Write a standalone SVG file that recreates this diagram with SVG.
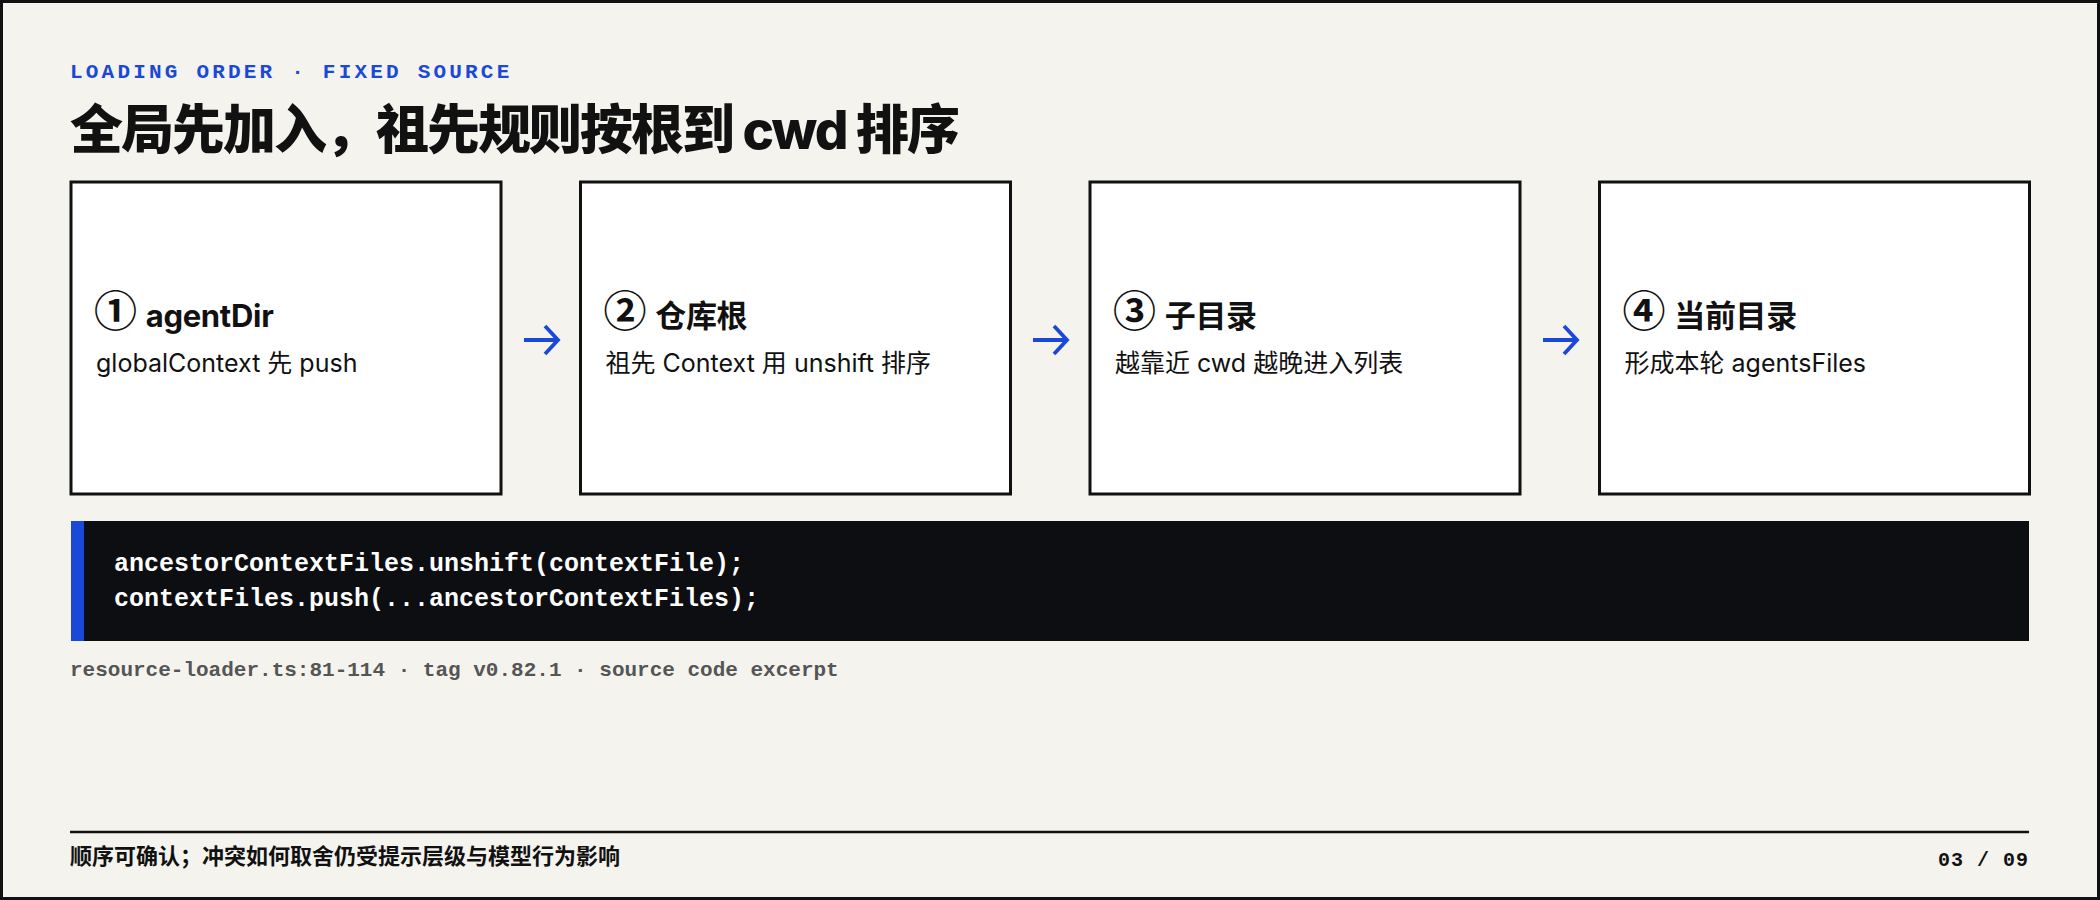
<svg xmlns="http://www.w3.org/2000/svg" width="2100" height="900" viewBox="0 0 2100 900">
  <style>
    .bg { fill: #f4f3ee; stroke: #111111; stroke-width: 3; }
    .eyebrow { font-family: "Liberation Mono", "DejaVu Sans Mono", monospace; font-weight: bold; font-size: 21px; letter-spacing: 3.2px; fill: #1a48d8; }
    .title { font-family: Inter, "Noto Sans CJK SC", sans-serif; font-weight: 800; font-size: 53px; letter-spacing: -2px; fill: #111111; }
    .box { fill: #ffffff; stroke: #111111; stroke-width: 3; }
    .head { font-family: Inter, "Noto Sans CJK SC", sans-serif; font-weight: bold; font-size: 31px; letter-spacing: -0.3px; fill: #111111; }
    .num { font-family: "Noto Sans CJK SC", sans-serif; font-weight: bold; font-size: 43px; }
    .sub { font-family: Inter, "Noto Sans CJK SC", sans-serif; font-size: 25px; fill: #111111; }
    .arrow { fill: none; stroke: #1a48d8; stroke-width: 3.8; stroke-linecap: butt; }
    .code { font-family: "Liberation Mono", "DejaVu Sans Mono", monospace; font-weight: bold; font-size: 25px; fill: #ffffff; }
    .caption { font-family: "Liberation Mono", "DejaVu Sans Mono", monospace; font-weight: bold; font-size: 21px; fill: #555555; }
    .foot { font-family: Inter, "Noto Sans CJK SC", sans-serif; font-weight: bold; font-size: 22px; fill: #111111; }
    .page { font-family: "Liberation Mono", "DejaVu Sans Mono", monospace; font-weight: bold; font-size: 20px; letter-spacing: 1px; fill: #111111; }
  </style>

  <rect class="bg" x="1.5" y="1.5" width="2097" height="897"/>

  <text class="eyebrow" x="70" y="78">LOADING ORDER · FIXED SOURCE</text>
  <text class="title" x="70" y="149">全局先加入，祖先规则按根到 cwd 排序</text>

  <g id="node1">
    <rect class="box" x="71" y="182" width="430" height="312"/>
    <text class="head" x="94" y="327"><tspan class="num">①</tspan><tspan dx="9">agentDir</tspan></text>
    <text class="sub" x="96" y="372">globalContext 先 push</text>
  </g>
  <g id="node2">
    <rect class="box" x="580.5" y="182" width="430" height="312"/>
    <text class="head" x="603.5" y="327"><tspan class="num">②</tspan><tspan dx="9">仓库根</tspan></text>
    <text class="sub" x="605.5" y="372">祖先 Context 用 unshift 排序</text>
  </g>
  <g id="node3">
    <rect class="box" x="1090" y="182" width="430" height="312"/>
    <text class="head" x="1113" y="327"><tspan class="num">③</tspan><tspan dx="9">子目录</tspan></text>
    <text class="sub" x="1115" y="372">越靠近 cwd 越晚进入列表</text>
  </g>
  <g id="node4">
    <rect class="box" x="1599.5" y="182" width="430" height="312"/>
    <text class="head" x="1622.5" y="327"><tspan class="num">④</tspan><tspan dx="9">当前目录</tspan></text>
    <text class="sub" x="1624.5" y="372">形成本轮 agentsFiles</text>
  </g>

  <g id="connectors">
    <path class="arrow" d="M524 340 H557 M545 326 L558 340 L545 354"/>
    <path class="arrow" d="M1033 340 H1066 M1054 326 L1067 340 L1054 354"/>
    <path class="arrow" d="M1543 340 H1576 M1564 326 L1577 340 L1564 354"/>
  </g>

  <g id="code">
    <rect x="71" y="521" width="1958" height="120" fill="#0d0e12"/>
    <rect x="71" y="521" width="13" height="120" fill="#1a48d8"/>
    <text class="code" x="114" y="571">ancestorContextFiles.unshift(contextFile);</text>
    <text class="code" x="114" y="606">contextFiles.push(...ancestorContextFiles);</text>
  </g>

  <text class="caption" x="70" y="676">resource-loader.ts:81-114 · tag v0.82.1 · source code excerpt</text>

  <line x1="70" y1="832" x2="2029" y2="832" stroke="#111111" stroke-width="2.5"/>
  <text class="foot" x="70" y="864">顺序可确认；冲突如何取舍仍受提示层级与模型行为影响</text>
  <text class="page" x="2029" y="866" text-anchor="end">03 / 09</text>
</svg>
